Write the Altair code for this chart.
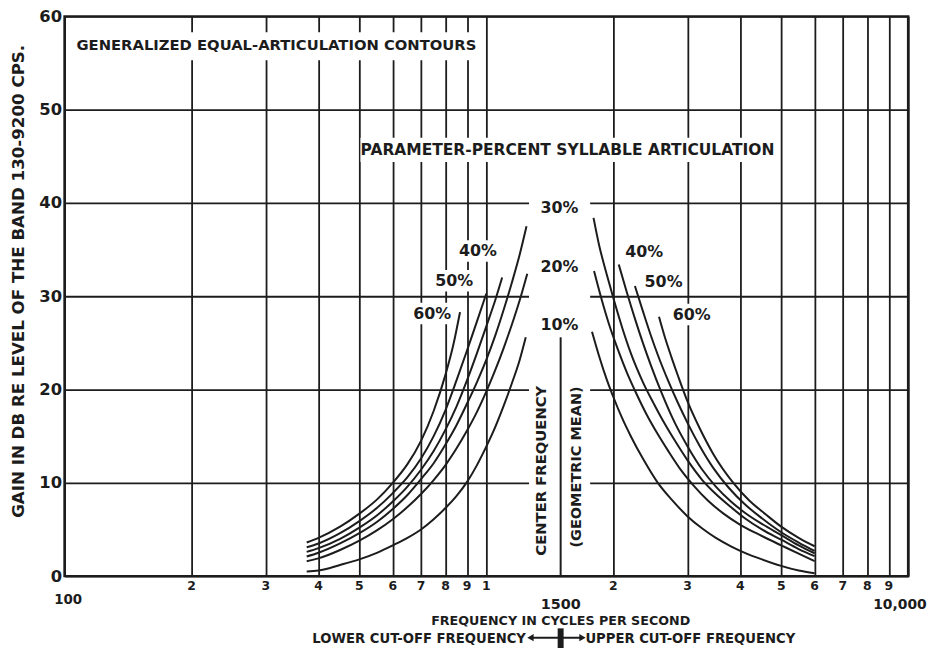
import altair as alt
import pandas as pd

FONT = "DejaVu Sans"
INK = "#1c1c1c"

# ---- grid / tick data ----
x_grid = [100, 200, 300, 400, 500, 600, 700, 800, 900, 1000,
          2000, 3000, 4000, 5000, 6000, 7000, 8000, 9000, 10000]
y_grid = [0, 10, 20, 30, 40, 50, 60]
tick_freqs = [200, 300, 400, 500, 600, 700, 800, 900, 1000,
              2000, 3000, 4000, 5000, 6000, 7000, 8000, 9000]
tick_texts = ["2", "3", "4", "5", "6", "7", "8", "9", "1",
              "2", "3", "4", "5", "6", "7", "8", "9"]

# ---- lower cut-off frequency curves (left family) ----
lo60_f = [375, 400, 450, 500, 550, 600, 650, 700, 750, 800, 835, 866]
lo60_db = [3.6, 4.1, 5.3, 6.7, 8.2, 10.0, 12.0, 14.5, 17.7, 21.6, 24.8, 28.3]
lo50_f = [375, 400, 450, 500, 550, 600, 650, 700, 750, 800, 850, 900, 950, 1000]
lo50_db = [3.1, 3.5, 4.6, 5.9, 7.3, 8.9, 10.6, 12.6, 15.0, 17.8, 21.0, 24.2, 27.3, 30.3]
lo40_f = [375, 400, 450, 500, 550, 600, 650, 700, 750, 800, 850, 900, 950, 1000, 1050, 1090]
lo40_db = [2.6, 3.0, 4.0, 5.2, 6.5, 8.0, 9.6, 11.4, 13.4, 15.7, 18.2, 21.0, 23.9, 26.8, 29.6, 32.0]
lo30_f = [375, 400, 450, 500, 550, 600, 650, 700, 750, 800, 850, 900, 950, 1000, 1050, 1100, 1150, 1200, 1245]
lo30_db = [2.1, 2.5, 3.5, 4.6, 5.8, 7.2, 8.7, 10.4, 12.1, 14.1, 16.2, 18.5, 20.8, 23.2, 25.8, 28.6, 31.5, 34.5, 37.5]
lo20_f = [375, 400, 450, 500, 550, 600, 650, 700, 750, 800, 850, 900, 950, 1000, 1050, 1100, 1150, 1200, 1250]
lo20_db = [1.6, 1.9, 2.8, 3.8, 4.9, 6.1, 7.4, 8.8, 10.3, 11.9, 13.7, 15.6, 17.6, 19.8, 22.1, 24.5, 27.0, 29.6, 32.4]
lo10_f = [375, 400, 450, 500, 550, 600, 650, 700, 750, 800, 850, 900, 950, 1000, 1050, 1100, 1150, 1200, 1240]
lo10_db = [0.5, 0.6, 1.2, 1.8, 2.5, 3.3, 4.1, 5.0, 6.1, 7.3, 8.6, 10.1, 11.9, 13.9, 16.0, 18.3, 20.7, 23.2, 25.6]

# ---- upper cut-off frequency curves (right family) ----
hi60_f = [2566, 2650, 2750, 2850, 3000, 3200, 3450, 3850, 4200, 4600, 5000, 5500, 6000]
hi60_db = [27.8, 25.6, 23.4, 21.4, 18.7, 15.9, 13.1, 10.0, 8.1, 6.6, 5.3, 4.1, 3.2]
hi50_f = [2250, 2350, 2450, 2550, 2700, 2850, 3000, 3200, 3450, 3750, 4100, 4500, 5000, 5500, 6000]
hi50_db = [31.1, 28.4, 25.9, 23.7, 20.9, 18.5, 16.4, 14.0, 11.6, 9.5, 7.7, 6.2, 4.7, 3.6, 2.7]
hi40_f = [2060, 2150, 2250, 2350, 2450, 2600, 2800, 3000, 3250, 3500, 3800, 4100, 4500, 5000, 5500, 6000]
hi40_db = [33.4, 30.5, 27.6, 25.0, 22.7, 19.7, 16.4, 13.9, 11.4, 9.6, 8.0, 6.8, 5.6, 4.4, 3.3, 2.45]
hi30_f = [1795, 1850, 1925, 2000, 2100, 2200, 2350, 2500, 2650, 2800, 3000, 3250, 3500, 3800, 4100, 4500, 5000, 5500, 6000]
hi30_db = [38.4, 35.5, 32.5, 29.8, 26.6, 23.9, 20.8, 18.4, 16.3, 14.5, 12.4, 10.3, 8.8, 7.4, 6.2, 5.0, 3.9, 2.9, 2.15]
hi20_f = [1800, 1875, 1950, 2050, 2150, 2250, 2400, 2550, 2700, 2900, 3100, 3350, 3650, 4000, 4500, 5000, 5500, 6000]
hi20_db = [32.7, 29.7, 27.1, 24.3, 21.9, 19.9, 17.3, 15.2, 13.4, 11.3, 9.7, 8.1, 6.7, 5.5, 4.3, 3.3, 2.4, 1.6]
hi10_f = [1780, 1850, 1925, 2000, 2100, 2200, 2350, 2550, 2750, 3000, 3250, 3500, 3800, 4100, 4500, 5000, 5500, 6000]
hi10_db = [26.2, 23.6, 21.2, 19.2, 16.9, 15.0, 12.6, 10.0, 8.2, 6.4, 5.1, 4.1, 3.2, 2.5, 1.8, 1.1, 0.6, 0.3]

curves = {
    "lo60": (lo60_f, lo60_db), "lo50": (lo50_f, lo50_db), "lo40": (lo40_f, lo40_db),
    "lo30": (lo30_f, lo30_db), "lo20": (lo20_f, lo20_db), "lo10": (lo10_f, lo10_db),
    "hi60": (hi60_f, hi60_db), "hi50": (hi50_f, hi50_db), "hi40": (hi40_f, hi40_db),
    "hi30": (hi30_f, hi30_db), "hi20": (hi20_f, hi20_db), "hi10": (hi10_f, hi10_db),
}
rows = []
for name, (fs, ds) in curves.items():
    for i, (f, d) in enumerate(zip(fs, ds)):
        rows.append({"curve": name, "order": i, "freq": f, "db": d})
curve_df = pd.DataFrame(rows)

# ---- scales & axes ----
XS = alt.Scale(type="log", domain=[100, 10000], nice=False)
YS = alt.Scale(domain=[0, 60], nice=False, zero=False)
X_AXIS = alt.Axis(values=x_grid, grid=True, labels=False, ticks=False, domain=False,
                  title=None, gridColor=INK, gridWidth=1.8, gridOpacity=1)
Y_AXIS = alt.Axis(values=y_grid, grid=True, labels=True, ticks=False, tickSize=0,
                  domain=False, title=None, gridColor=INK, gridWidth=1.8, gridOpacity=1,
                  labelFont=FONT, labelFontSize=16.5, labelFontWeight="bold",
                  labelColor=INK, labelPadding=3, labelFlush=False)


def X(field):
    return alt.X(field, type="quantitative", scale=XS, axis=X_AXIS)


def Y(field):
    return alt.Y(field, type="quantitative", scale=YS, axis=Y_AXIS)


# white boxes that break the grid behind lettering
box_f1 = [103.3, 503, 1262, 660, 745, 848, 2100, 2335, 2720]
box_f2 = [940, 4813, 1762, 838, 945, 1075, 2660, 2965, 3460]
box_d1 = [55.3, 44.4, 0.25, 27.0, 30.5, 33.7, 33.6, 30.4, 26.9]
box_d2 = [58.3, 47.0, 41.3, 29.3, 32.8, 36.0, 35.9, 32.7, 29.2]
box_df = pd.DataFrame({"f1": box_f1, "f2": box_f2, "d1": box_d1, "d2": box_d2})

boxes = alt.Chart(box_df).mark_rect(color="white").encode(
    x=X("f1"), x2="f2", y=Y("d1"), y2="d2")

lines = alt.Chart(curve_df).mark_line(color=INK, strokeWidth=2, interpolate="monotone").encode(
    x=X("freq"), y=Y("db"), detail="curve:N", order="order:Q")

center_df = pd.DataFrame({"f": [1500], "d1": [0.0], "d2": [25.6]})
center_rule = alt.Chart(center_df).mark_rule(color=INK, strokeWidth=2).encode(
    x=X("f"), y=Y("d1"), y2="d2")


def label(text, f, d, size, align="center", angle=0):
    df = pd.DataFrame({"t": [text], "f": [f], "d": [d]})
    return alt.Chart(df).mark_text(font=FONT, fontWeight="bold", fontSize=size, align=align,
                                   baseline="middle", angle=angle, color=INK).encode(
        x=X("f"), y=Y("d"), text="t:N")


tick_df = pd.DataFrame({"f": tick_freqs, "t": tick_texts, "d": [-1.05] * len(tick_freqs)})
ticks = alt.Chart(tick_df).mark_text(font=FONT, fontWeight="bold", fontSize=12.5,
                                     baseline="middle", color=INK).encode(
    x=X("f"), y=Y("d"), text="t:N")

# pct labels
pct_text = ["60%", "50%", "40%", "30%", "20%", "10%", "40%", "50%", "60%"]
pct_f = [744, 839, 955, 1490, 1490, 1490, 2366, 2631, 3069]
pct_d = [28.1, 31.6, 34.8, 39.5, 33.1, 26.9, 34.7, 31.5, 28.0]
pct_df = pd.DataFrame({"t": pct_text, "f": pct_f, "d": pct_d})
pcts = alt.Chart(pct_df).mark_text(font=FONT, fontWeight="bold", fontSize=16,
                                   baseline="middle", color=INK).encode(
    x=X("f"), y=Y("d"), text="t:N")

arrow_df = pd.DataFrame({"f1": [1275], "f2": [1680], "d": [-6.6]})
arrow = alt.Chart(arrow_df).mark_rule(color=INK, strokeWidth=2).encode(
    x=X("f1"), x2="f2", y=Y("d"))
head_df = pd.DataFrame({"f": [1272, 1690], "d": [-6.6, -6.6], "s": ["triangle-left", "triangle-right"]})
heads = alt.Chart(head_df).mark_point(filled=True, color=INK, size=55, opacity=1).encode(
    x=X("f"), y=Y("d"), shape=alt.Shape("s:N", scale=None))
bar_df = pd.DataFrame({"f": [1500], "d1": [-5.6], "d2": [-7.9]})
bar = alt.Chart(bar_df).mark_rule(color=INK, strokeWidth=6).encode(
    x=X("f"), y=Y("d1"), y2="d2")

texts = [
    label("GENERALIZED EQUAL-ARTICULATION CONTOURS", 106.7, 56.8, 14.9, align="left"),
    label("PARAMETER-PERCENT SYLLABLE ARTICULATION", 503, 45.7, 15.6, align="left"),
    label("CENTER FREQUENCY", 1354, 11.3, 14.9, angle=270),
    label("(GEOMETRIC MEAN)", 1636, 11.7, 14.6, angle=270),
    label("GAIN IN DB RE LEVEL OF THE BAND 130-9200 CPS.", 78.2, 31.6, 16.8, angle=270),
    label("100", 102, -2.6, 13.5),
    label("1500", 1500, -3.15, 14.5),
    label("10,000", 9560, -3.15, 14),
    label("FREQUENCY IN CYCLES PER SECOND", 1500, -4.8, 12.8),
    label("LOWER CUT-OFF FREQUENCY", 1241, -6.7, 13.3, align="right"),
    label("UPPER CUT-OFF FREQUENCY", 1717, -6.7, 13.3, align="left"),
]

chart = alt.layer(boxes, center_rule, lines, ticks, pcts, arrow, heads, bar, *texts).properties(
    width=850, height=564,
    padding={"left": 57, "top": 6, "right": 22, "bottom": 70},
    autosize=alt.AutoSizeParams(type="none"),
    background="white",
).configure_view(stroke=INK, strokeWidth=2.5)

chart.save("out.html", embed_options={"renderer": "svg", "actions": False})
